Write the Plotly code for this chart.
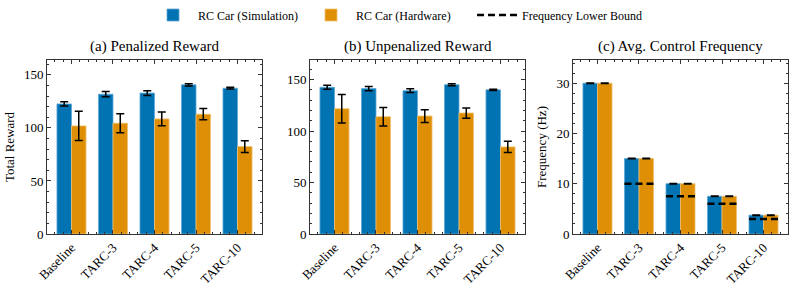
import plotly.graph_objects as go

categories = ["Baseline", "TARC-3", "TARC-4", "TARC-5", "TARC-10"]

pen_sim = [122.6, 131.8, 132.8, 140.6, 137.4]
pen_sim_err = [2.0, 2.4, 2.2, 1.0, 0.8]
pen_hw = [101.9, 104.4, 108.5, 112.9, 82.4]
pen_hw_err = [13.8, 9.0, 6.5, 5.3, 5.5]

unp_sim = [142.5, 141.2, 139.2, 145.0, 140.0]
unp_sim_err = [2.0, 2.0, 1.8, 1.0, 0.7]
unp_hw = [121.7, 113.9, 114.6, 117.5, 84.6]
unp_hw_err = [13.8, 9.0, 6.2, 5.0, 5.5]

freq_sim = [30.0, 15.0, 10.0, 7.5, 3.75]
freq_sim_err = [0.05, 0.05, 0.05, 0.05, 0.05]
freq_hw = [30.0, 15.0, 10.0, 7.5, 3.75]
freq_hw_err = [0.05, 0.05, 0.05, 0.05, 0.05]
freq_lower = [None, 10.0, 7.5, 6.0, 3.0]

titles = ["(a) Penalized Reward", "(b) Unpenalized Reward", "(c) Avg. Control Frequency"]

BLUE = "#0173B2"
ORANGE = "#DE8F05"
FONT = "Liberation Serif, Times New Roman, DejaVu Serif, serif"
W, H = 794, 288

x_idx = list(range(len(categories)))
group_w = 0.7

fig = go.Figure()

panels = [
    (pen_sim, pen_sim_err, pen_hw, pen_hw_err, 164, 50, 10, "Total Reward"),
    (unp_sim, unp_sim_err, unp_hw, unp_hw_err, 169, 50, 10, ""),
    (freq_sim, freq_sim_err, freq_hw, freq_hw_err, 34.6, 10, 2, "Frequency (Hz)"),
]
xdomains = [(47 / W, 262 / W), (310 / W, 525 / W), (573 / W, 788 / W)]
ydomain = ((288 - 234) / H, (288 - 60) / H)

for i, (sim, simerr, hw, hwerr, ymax, dt, mdt, ylab) in enumerate(panels):
    sfx = "" if i == 0 else str(i + 1)
    xa, ya = "x" + sfx, "y" + sfx
    fig.add_trace(go.Bar(
        x=x_idx, y=sim, name="RC Car (Simulation)", marker=dict(color=BLUE, line=dict(color="#5fa8d8", width=0.8)),
        error_y=dict(type="data", array=simerr, color="black", thickness=1.5, width=4),
        offsetgroup="sim", xaxis=xa, yaxis=ya, showlegend=(i == 0), legendgroup="sim"))
    fig.add_trace(go.Bar(
        x=x_idx, y=hw, name="RC Car (Hardware)", marker=dict(color=ORANGE, line=dict(color="#f0c070", width=0.8)),
        error_y=dict(type="data", array=hwerr, color="black", thickness=1.5, width=4),
        offsetgroup="hw", xaxis=xa, yaxis=ya, showlegend=(i == 0), legendgroup="hw"))

    fig.layout["xaxis" + sfx] = dict(
        domain=list(xdomains[i]), anchor=ya, range=[-0.59, 4.59], automargin=False,
        tickvals=x_idx, ticktext=categories, tickangle=-45,
        ticks="inside", ticklen=4, tickcolor="#333", mirror="allticks",
        showline=True, linecolor="#333", linewidth=1, showgrid=False, zeroline=False,
        minor=dict(dtick=0.2, tick0=0, ticks="inside", ticklen=2, tickcolor="#333"),
        tickfont=dict(family=FONT, size=13, color="black"))
    fig.layout["yaxis" + sfx] = dict(
        domain=list(ydomain), anchor=xa, range=[0, ymax], dtick=dt, automargin=False,
        ticks="inside", ticklen=4, tickcolor="#333", mirror="allticks",
        showline=True, linecolor="#333", linewidth=1, showgrid=False, zeroline=False,
        minor=dict(dtick=mdt, ticks="inside", ticklen=2, tickcolor="#333"),
        tickfont=dict(family=FONT, size=13, color="black"),
        title=dict(text=ylab, font=dict(family=FONT, size=13, color="black"), standoff=6))

    fig.add_annotation(text=titles[i], xref="paper", yref="paper",
                       x=(xdomains[i][0] + xdomains[i][1]) / 2, y=(288 - 46) / H,
                       showarrow=False, font=dict(family=FONT, size=15, color="black"),
                       yanchor="middle", xanchor="center")

# Frequency lower bound dashed lines
first = True
for k, lb in enumerate(freq_lower):
    if lb is None:
        continue
    fig.add_trace(go.Scatter(
        x=[x_idx[k] - group_w / 2, x_idx[k] + group_w / 2], y=[lb, lb], mode="lines",
        line=dict(color="black", width=2.5, dash="7px,4px"),
        name="Frequency Lower Bound", showlegend=first, legendgroup="lb", legend="legend2",
        xaxis="x3", yaxis="y3"))
    first = False

fig.update_layout(
    width=W, height=H, autosize=False,
    margin=dict(l=0, r=0, t=0, b=0, autoexpand=False),
    plot_bgcolor="white", paper_bgcolor="white",
    barmode="group", bargap=0.3, bargroupgap=0,
    font=dict(family=FONT, size=12, color="black"),
    legend=dict(orientation="h", x=148 / W, xanchor="left", y=1 - 15 / H, yanchor="middle",
                font=dict(family=FONT, size=12, color="black"), itemwidth=40,
                entrywidth=103, entrywidthmode="pixels",
                traceorder="normal", bgcolor="rgba(0,0,0,0)"),
    legend2=dict(orientation="h", x=(514 - 42) / W, xanchor="left", y=1 - 15 / H, yanchor="middle",
                 font=dict(family=FONT, size=12, color="black"), itemwidth=40,
                 bgcolor="rgba(0,0,0,0)"),
)

fig.write_html("out.html", config={"displayModeBar": False},
               post_script="document.body.style.margin='0';document.body.style.overflow='hidden';")
